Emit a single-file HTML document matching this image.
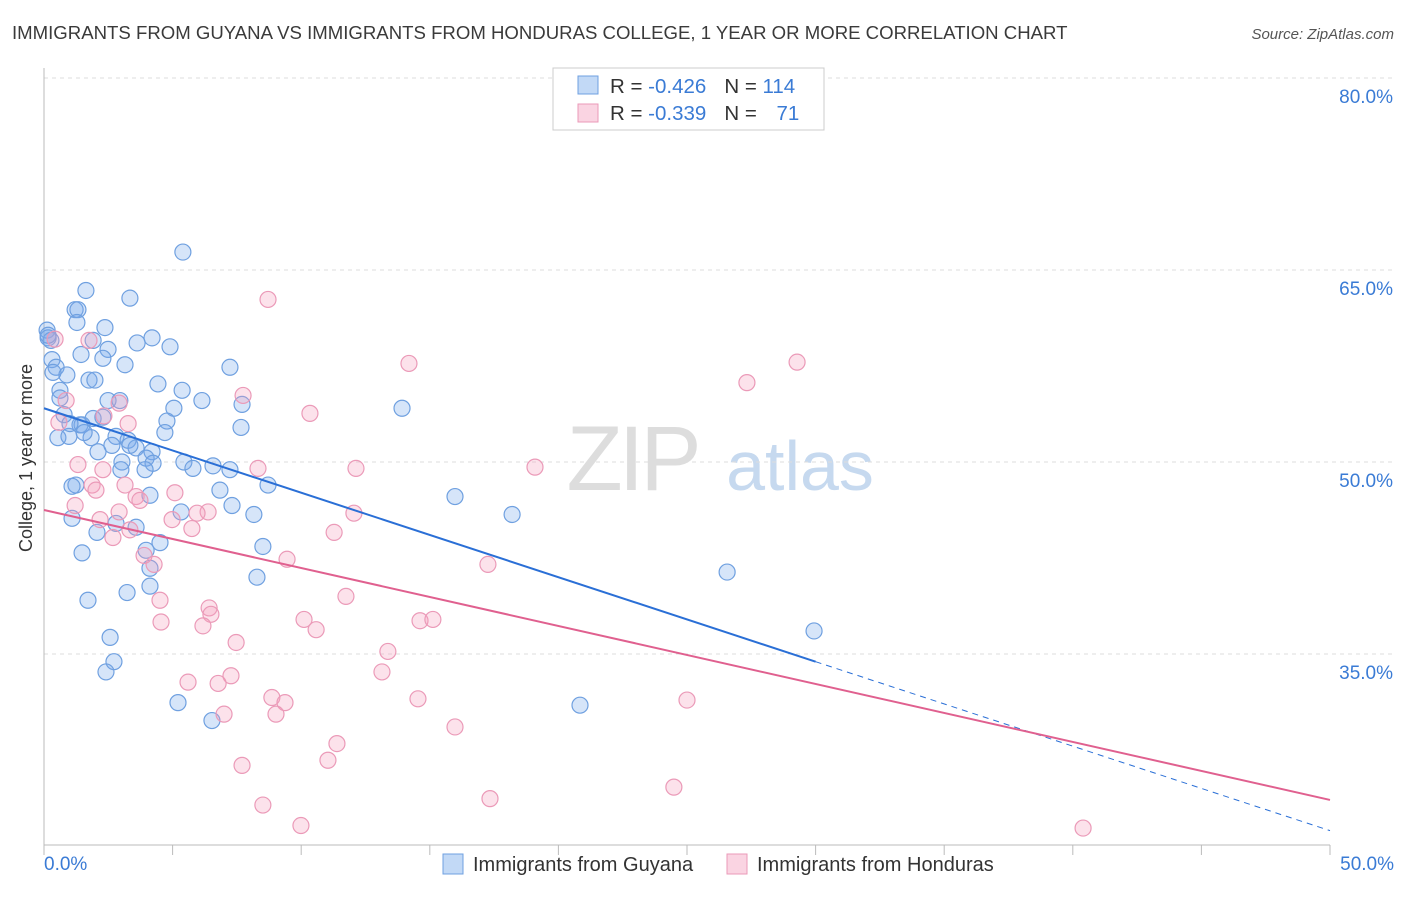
<!DOCTYPE html>
<html><head><meta charset="utf-8"><style>
body{margin:0;background:#fff;font-family:"Liberation Sans",sans-serif;}
svg text{font-family:"Liberation Sans",sans-serif;}
</style></head><body>
<svg id="chart" width="1406" height="892" viewBox="0 0 1406 892">
<text x="12" y="39" font-size="18.6" fill="#3a3a3a">IMMIGRANTS FROM GUYANA VS IMMIGRANTS FROM HONDURAS COLLEGE, 1 YEAR OR MORE CORRELATION CHART</text>
<text x="1394" y="39" font-size="15" fill="#555" font-style="italic" text-anchor="end">Source: ZipAtlas.com</text>
<g>
<text x="632" y="490" font-size="92" fill="#ddd" text-anchor="middle" font-family="Liberation Serif" letter-spacing="-4">ZIP</text>
<text x="800" y="490" font-size="70" fill="#c6d9ef" text-anchor="middle">atlas</text>
</g>
<g id="grid"></g>
<g id="axes"></g>
<g id="marks"></g>
<text x="32" y="458" font-size="18" fill="#333" text-anchor="middle" transform="rotate(-90 32 458)">College, 1 year or more</text>
<g>
<rect x="553" y="68" width="271" height="62" fill="#fff" stroke="#ccc"/>
<rect x="578" y="76" width="20" height="18" fill="rgba(120,170,235,0.45)" stroke="#6fa0e0"/>
<rect x="578" y="104" width="20" height="18" fill="rgba(245,160,190,0.45)" stroke="#eb9ab8"/>
<text x="610" y="93" font-size="20.5" fill="#333">R = <tspan fill="#3a7bd5">-0.426</tspan><tspan dx="18">N = </tspan><tspan fill="#3a7bd5">114</tspan></text>
<text x="610" y="120" font-size="20.5" fill="#333">R = <tspan fill="#3a7bd5">-0.339</tspan><tspan dx="18">N = </tspan><tspan fill="#3a7bd5" dx="14">71</tspan></text>
</g>
<g>
<rect x="443" y="854" width="20" height="20" fill="rgba(120,170,235,0.45)" stroke="#6fa0e0"/>
<text x="473" y="871" font-size="20" fill="#333">Immigrants from Guyana</text>
<rect x="727" y="854" width="20" height="20" fill="rgba(245,160,190,0.45)" stroke="#eb9ab8"/>
<text x="757" y="871" font-size="20" fill="#333">Immigrants from Honduras</text>
</g>
</svg>
<script>
const yTicks=[35,50,65,80];
const xTickLabels=["0.0%","50.0%"];
const guyanaX=[5.40,1.63,3.34,1.21,1.32,1.28,2.37,0.12,0.16,0.27,1.91,4.20,3.62,4.90,1.44,2.49,2.29,3.15,0.31,0.47,1.75,1.98,0.89,4.43,5.37,7.23,6.14,5.05,7.70,0.62,2.49,2.95,13.92,0.78,1.91,2.29,4.78,7.66,1.40,1.48,0.54,0.97,2.80,1.83,3.27,4.70,3.58,4.20,2.10,3.97,4.24,3.03,5.44,5.79,6.57,7.23,2.99,1.24,1.09,8.71,6.84,4.12,7.31,15.98,18.20,5.33,8.16,1.09,2.80,3.58,2.06,4.51,8.51,1.48,3.97,4.12,8.28,26.56,1.71,3.23,4.12,2.57,2.72,2.41,5.21,6.53,20.84,29.94,0.16,0.62,1.01,1.56,3.34,3.93,0.35,2.64];
const guyanaY=[66.4,63.4,62.8,61.9,61.9,60.9,60.5,60.3,59.7,59.5,59.5,59.7,59.3,59.0,58.4,58.8,58.1,57.6,58.0,57.4,56.4,56.4,56.8,56.1,55.6,57.4,54.8,54.2,54.5,55.6,54.8,54.8,54.2,53.7,53.4,53.5,53.2,52.7,52.9,52.9,51.9,52.0,52.0,51.9,51.7,52.3,51.1,50.8,50.8,50.3,49.9,50.0,50.0,49.5,49.7,49.4,49.4,48.2,48.1,48.2,47.8,47.4,46.6,47.3,45.9,46.1,45.9,45.6,45.2,44.9,44.5,43.7,43.4,42.9,43.1,41.7,41.0,41.4,39.2,39.8,40.3,36.3,34.4,33.6,31.2,29.8,31.0,36.8,59.9,55.0,53.0,52.3,51.3,49.4,57.0,51.3];
const hondurasX=[8.71,14.19,29.28,27.33,7.74,2.92,0.86,10.34,0.58,2.33,3.27,0.43,1.32,2.29,8.32,12.13,19.09,1.87,2.02,3.15,3.58,5.09,3.73,6.38,5.95,12.05,4.98,2.92,5.75,2.68,11.28,9.45,17.26,4.28,3.89,6.42,6.49,4.55,6.18,11.74,10.11,10.58,14.62,15.12,7.47,13.37,13.14,7.27,5.60,6.77,8.86,9.37,14.54,25.0,9.02,7.00,15.98,11.39,11.04,7.70,24.49,17.34,8.51,9.99,40.40,1.75,2.18,1.21,3.34,4.51];
const hondurasY=[62.7,57.7,57.8,56.2,55.2,54.6,54.8,53.8,53.1,53.6,53.0,59.6,49.8,49.4,49.5,49.5,49.6,48.2,47.8,48.2,47.3,47.6,47.0,46.1,46.0,46.0,45.5,46.1,44.8,44.1,44.5,42.4,42.0,42.0,42.7,38.6,38.1,37.5,37.2,39.5,37.7,36.9,37.6,37.7,35.9,35.2,33.6,33.3,32.8,32.7,31.6,31.2,31.5,31.4,30.3,30.3,29.3,28.0,26.7,26.3,24.6,23.7,23.2,21.6,21.4,59.5,45.5,46.6,44.7,39.2];
const guyanaTrend=[54.2,-0.66];
const hondurasTrend=[46.25,-0.453];

const NS="http://www.w3.org/2000/svg";
const X0=44,X1=1330,Y0=845,YTOP=78;
function sx(v){return X0+(v/50)*(X1-X0);}
function sy(v){return YTOP+(80-v)*12.8;}
function mk(tag,attrs,parent){const e=document.createElementNS(NS,tag);for(const k in attrs)e.setAttribute(k,attrs[k]);parent.appendChild(e);return e;}
const grid=document.getElementById('grid'),axes=document.getElementById('axes'),marks=document.getElementById('marks');
yTicks.forEach(t=>{
  const l=mk('line',{x1:X0,x2:1394,y1:sy(t),y2:sy(t),stroke:'#ddd','stroke-dasharray':'4,4'},grid);
  
  
  const tx=mk('text',{x:1393,y:sy(t)+25,'font-size':19,fill:'#3a7bd5','text-anchor':'end'},axes);
  tx.textContent=t.toFixed(1)+'%';
  
  
});
const ax=mk('line',{x1:X0,x2:X1,y1:Y0,y2:Y0,stroke:'#bbb'},axes);


const ay=mk('line',{x1:X0,x2:X0,y1:68,y2:Y0,stroke:'#bbb'},axes);


for(let i=0;i<=10;i++){
  const t=mk('line',{x1:sx(i*5),x2:sx(i*5),y1:Y0,y2:Y0+10,stroke:'#bbb'},axes);
  
  
}
xTickLabels.forEach((s,i)=>{
  const t=mk('text',{x:i==0?X0:1394,y:870,'font-size':19,fill:'#3a7bd5','text-anchor':i==0?'start':'end'},axes);
  t.textContent=s;
  
  
});
function pts(xs,ys,fill,stroke,name){
  xs.forEach((x,i)=>{
    const c=mk('circle',{cx:sx(x),cy:sy(ys[i]),r:8,fill:fill,stroke:stroke,'stroke-width':1.2},marks);
    
    
  });
}
pts(guyanaX,guyanaY,'rgba(120,170,235,0.3)','#6fa0e0','guyana-point');
pts(hondurasX,hondurasY,'rgba(245,160,190,0.3)','#eb9ab8','honduras-point');
const f=(tr,x)=>tr[0]+tr[1]*x;
const bl=mk('line',{x1:sx(0),y1:sy(f(guyanaTrend,0)),x2:sx(30),y2:sy(f(guyanaTrend,30)),stroke:'#2a6fd6','stroke-width':2},marks);


const bd=mk('line',{x1:sx(30),y1:sy(f(guyanaTrend,30)),x2:sx(50),y2:sy(f(guyanaTrend,50)),stroke:'#2a6fd6','stroke-width':1,'stroke-dasharray':'6,5'},marks);


const pl=mk('line',{x1:sx(0),y1:sy(f(hondurasTrend,0)),x2:sx(50),y2:sy(f(hondurasTrend,50)),stroke:'#e0608f','stroke-width':2},marks);


</script>
</body></html>
